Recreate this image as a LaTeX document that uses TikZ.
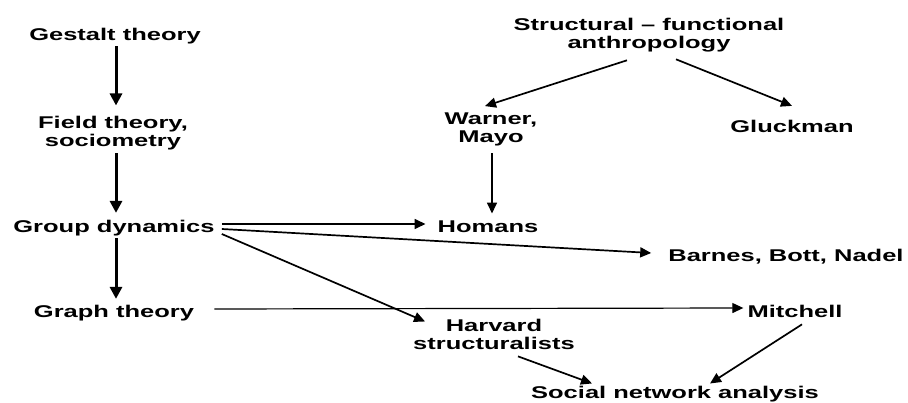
\documentclass[tikz,border=0pt]{standalone}
\usepackage{fontspec}
\newfontfamily\lblfont{Liberation Sans}[FakeStretch=1.5]
\usetikzlibrary{arrows.meta,calc}
\begin{document}
\begin{tikzpicture}[x=1pt,y=-1pt,
  lbl/.style={font=\lblfont\bfseries\fontsize{17}{18.5}\selectfont, inner sep=0pt, anchor=base, align=center},
  arr/.style={-{Triangle[length=11pt,width=10pt]}, line width=1.7pt},
  thinarr/.style={-{Triangle[length=11pt,width=10pt]}, line width=1.2pt},
  tarr/.style={-{Triangle[length=12pt,width=12pt]}, line width=3pt}]
\useasboundingbox[fill=white] (0,0) rectangle (908,403);
\node[lbl] (gest) at (115,41) {Gestalt theory};
\node[lbl] (field) at (113,147) {Field theory,\\sociometry};
\node[lbl] (group) at (114,233) {Group dynamics};
\node[lbl] (graph) at (114,318) {Graph theory};
\node[lbl] (sfa) at (649,49) {Structural – functional\\anthropology};
\node[lbl] (warner) at (491,143) {Warner,\\Mayo};
\node[lbl] (gluck) at (792,133) {Gluckman};
\node[lbl] (homans) at (488,233) {Homans};
\node[lbl] (barnes) at (786,262) {Barnes, Bott, Nadel};
\node[lbl] (mitchell) at (795,318) {Mitchell};
\node[lbl] (harvard) at (494,350) {Harvard\\structuralists};
\node[lbl] (sna) at (675,399) {Social network analysis};
% left column
\draw[tarr] ($(gest.south)+(1,1.5)$) -- ($(gest.south |- field.north)+(1,-10.5)$);
\draw[tarr] ($(gest.south |- field.south)+(1,2.5)$) -- ($(gest.south |- group.north)+(1,-7.6)$);
\draw[tarr] ($(gest.south |- group.south)+(1,1.5)$) -- ($(gest.south |- graph.north)+(1,-6.6)$);
% from group dynamics
\draw[arr] ($(group.base east)+(7,-9)$) -- ($(homans.base west)+(-12,-9)$);
\draw[arr] ($(group.base east)+(7,-4)$) -- ($(barnes.base west)+(-17,-9)$);
\draw[arr] ($(group.base east)+(7,1)$) -- ($(harvard.north west)+(12,2.5)$);
\draw[thinarr] ($(graph.base east)+(20,-9)$) -- ($(mitchell.base west)+(-4,-10)$);
% anthropology branch
\draw[arr] ($(sfa.south)+(-22,7.5)$) -- ($(warner.north)+(-6,-6.5)$);
\draw[arr] ($(sfa.south)+(27,6.5)$) -- ($(gluck.north)+(0,-14.6)$);
\draw[arr] ($(warner.south)+(1,6.4)$) -- ($(warner.south |- homans.north)+(1,-7.6)$);
% to SNA
\draw[arr] ($(harvard.south)+(24,6)$) -- ($(sna.north)+(-83,-3)$);
\draw[arr] ($(mitchell.south)+(7,6)$) -- ($(sna.north)+(35,-3)$);
\end{tikzpicture}
\end{document}
